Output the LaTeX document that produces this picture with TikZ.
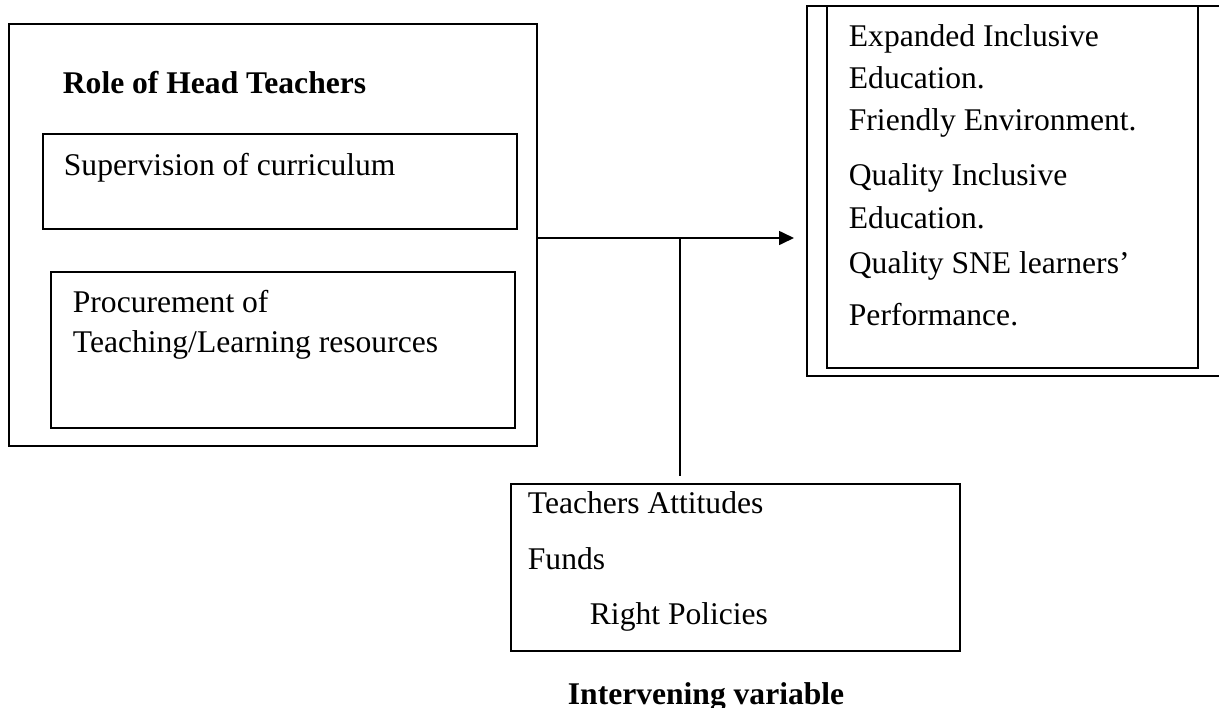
\documentclass[tikz,border=0pt]{standalone}
\usepackage{fontspec}
\setmainfont{Liberation Serif}
\usetikzlibrary{fit,arrows.meta}
\begin{document}
\begin{tikzpicture}[x=0.38pt,y=-0.38pt,line width=0.7pt]
\tikzstyle{box}=[draw,inner sep=0pt]
\tikzstyle{txt}=[anchor=base west,inner sep=0pt,font=\fontsize{12}{14}\selectfont]
\tikzstyle{head}=[txt,font=\fontsize{12}{14}\selectfont\bfseries]

\useasboundingbox (0,0) rectangle (1219,708);

  \node[box,fit={(9,24) (537,446)}] (role) {};
  \node[box,fit={(43,134) (517,229)}] (sup) {};
  \node[box,fit={(51,272) (515,428)}] (proc) {};
  \node[box,fit={(807,6) (1240,376)}] (out) {};
  \node[box,fit={(827,6) (1198,368)}] (outin) {};
  \node[box,fit={(511,484) (960,651)}] (inter) {};

  \node[head] (rolet) at (62,93) {Role of Head Teachers};
  \node[txt] (supt) at (63,175) {Supervision of curriculum};
  \node[txt] (proct) at (72,312) {Procurement of};
  \node[txt] (proct2) at (72,352) {Teaching/Learning resources};

  \foreach \y/\t [count=\i] in {46/Expanded Inclusive, 88/Education., 130/Friendly Environment.,
      185/Quality Inclusive, 228/Education., 273/Quality SNE learners’, 325/Performance.}
    \node[txt] (outt\i) at (848,\y) {\t};

  \node[txt] (intert1) at (527,513) {Teachers Attitudes};
  \node[txt] (intert2) at (527,569) {Funds};
  \node[txt] (intert3) at (589,624) {Right Policies};
  \node[head] (interl) at (567,704) {Intervening variable};

  \coordinate (tip) at (794,238);
  \coordinate (join) at (680,238);
  \draw [-{Triangle[length=5.7pt,width=5.3pt]}] (role.east |- tip) -- (tip);
  \draw [shorten >=2.7pt] (join) -- (join |- inter.north);

\end{tikzpicture}
\end{document}
